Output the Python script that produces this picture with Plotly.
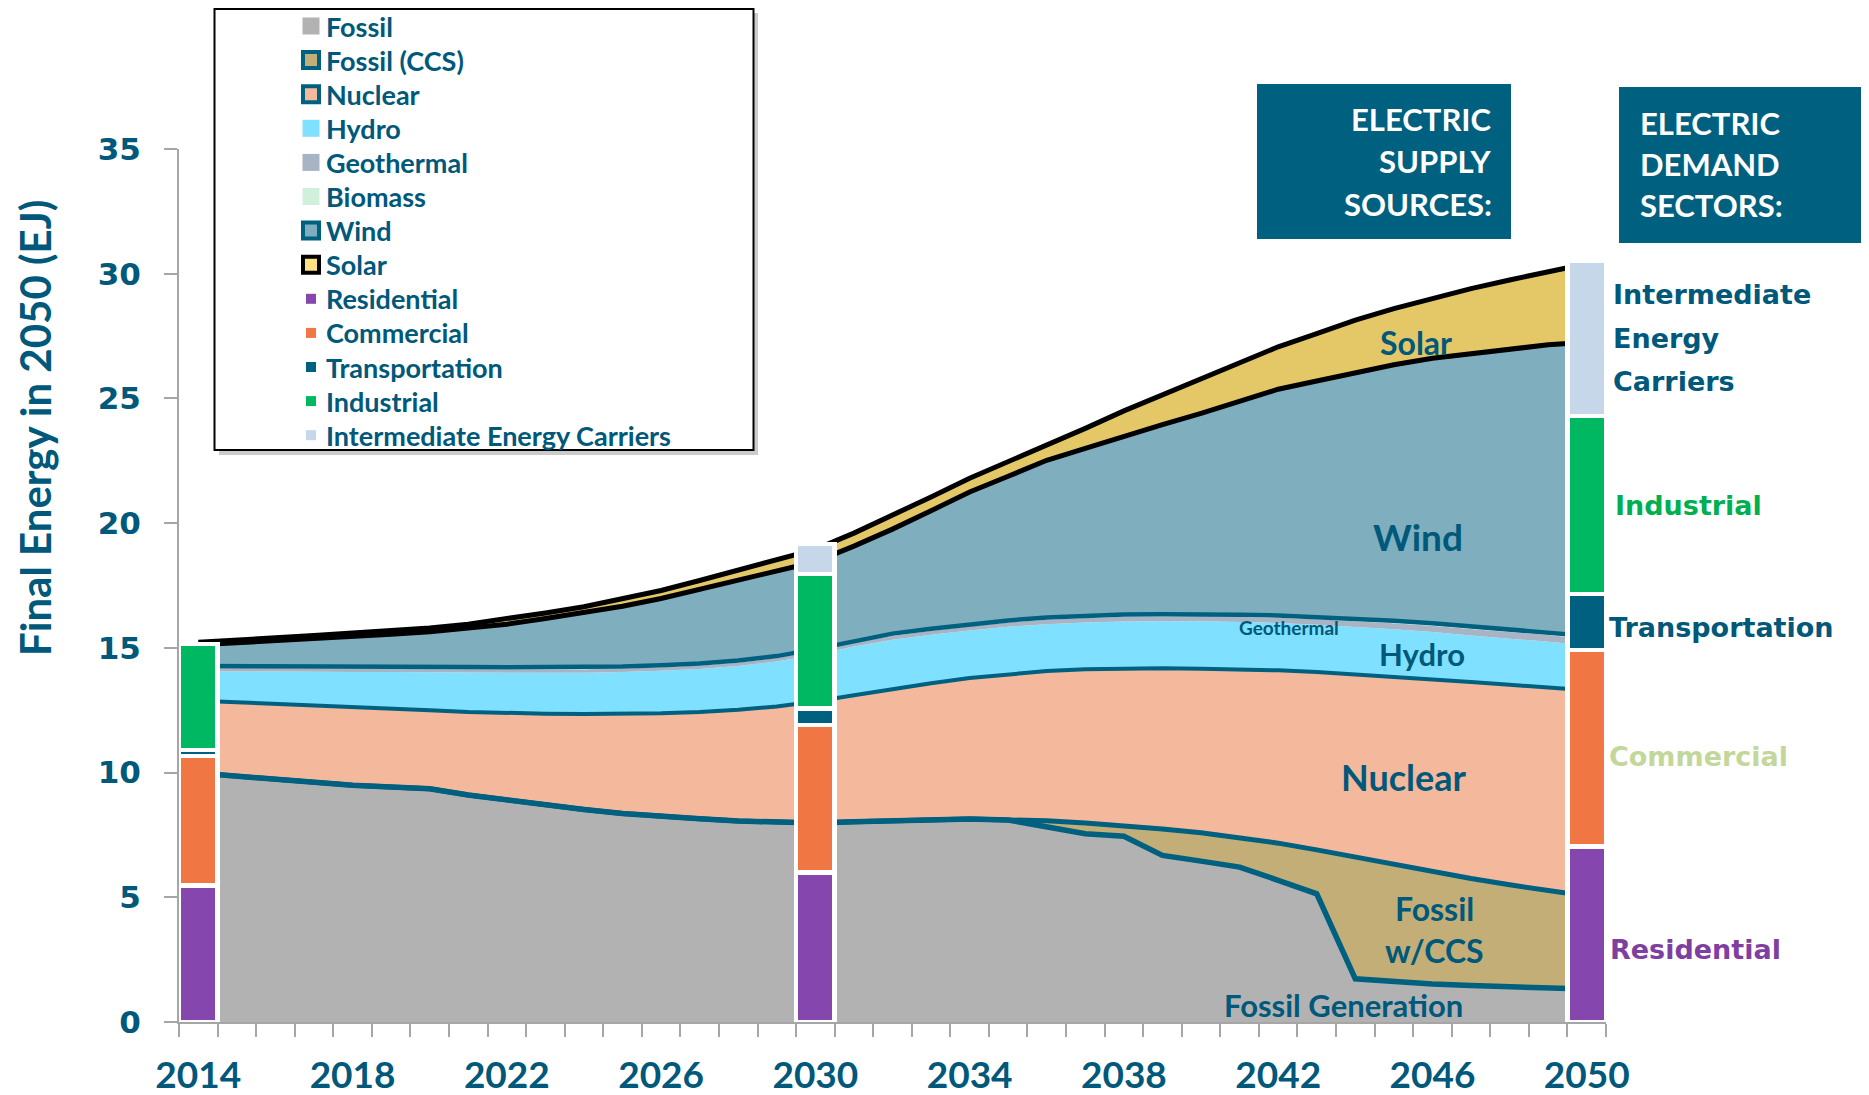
import numpy as np
import plotly.graph_objects as go

# ---- supply side (EJ per year, stacked) ----
years = list(range(2014, 2051))

fossil = [9.98, 9.85, 9.72, 9.60, 9.49, 9.42, 9.35, 9.10, 8.90, 8.72, 8.52, 8.36, 8.24,
          8.15, 8.06, 8.00, 7.98, 8.03, 8.08, 8.12, 8.14, 8.10, 7.81, 7.55, 7.45, 6.68,
          6.45, 6.21, 5.68, 5.14, 1.73, 1.60, 1.52, 1.46, 1.41, 1.36, 1.32]
fossil_ccs = [0.00, 0.00, 0.00, 0.00, 0.00, 0.00, 0.00, 0.00, 0.00, 0.00, 0.00, 0.00, 0.00,
              0.00, 0.00, 0.00, 0.00, 0.00, 0.00, 0.00, 0.00, 0.00, 0.26, 0.43, 0.43, 1.06,
              1.14, 1.19, 1.49, 1.76, 4.88, 4.70, 4.48, 4.29, 4.09, 3.92, 3.73]
nuclear = [2.90, 2.97, 3.04, 3.11, 3.16, 3.16, 3.15, 3.33, 3.48, 3.64, 3.83, 4.00, 4.14,
           4.28, 4.46, 4.65, 4.87, 5.07, 5.28, 5.46, 5.65, 5.85, 6.00, 6.16, 6.30, 6.44,
           6.57, 6.74, 6.93, 7.13, 7.33, 7.55, 7.74, 7.88, 8.02, 8.12, 8.25]
hydro = [1.17, 1.23, 1.29, 1.33, 1.38, 1.45, 1.52, 1.58, 1.62, 1.64, 1.65, 1.67, 1.70,
         1.72, 1.75, 1.80, 1.87, 1.95, 1.97, 1.95, 1.91, 1.90, 1.88, 1.88, 1.88, 1.89,
         1.91, 1.90, 1.90, 1.90, 1.90, 1.90, 1.90, 1.87, 1.85, 1.84, 1.80]
geothermal = [0.14, 0.14, 0.14, 0.14, 0.14, 0.14, 0.14, 0.14, 0.14, 0.14, 0.14, 0.14, 0.14,
              0.14, 0.14, 0.14, 0.15, 0.15, 0.16, 0.16, 0.17, 0.17, 0.18, 0.18, 0.19, 0.19,
              0.20, 0.20, 0.21, 0.22, 0.23, 0.24, 0.25, 0.26, 0.27, 0.28, 0.28]
biomass = [0.08, 0.08, 0.08, 0.08, 0.08, 0.08, 0.08, 0.08, 0.08, 0.08, 0.08, 0.08, 0.08,
           0.08, 0.08, 0.08, 0.08, 0.08, 0.08, 0.08, 0.08, 0.08, 0.09, 0.09, 0.09, 0.09,
           0.09, 0.09, 0.09, 0.09, 0.10, 0.10, 0.10, 0.10, 0.10, 0.10, 0.10]
wind = [0.85, 0.93, 1.03, 1.13, 1.23, 1.30, 1.41, 1.55, 1.73, 1.96, 2.18, 2.42, 2.68,
        2.97, 3.21, 3.38, 3.50, 3.80, 4.19, 4.73, 5.30, 5.78, 6.30, 6.71, 7.16, 7.60,
        8.04, 8.57, 9.07, 9.46, 9.87, 10.26, 10.62, 10.94, 11.26, 11.53, 11.77]
solar = [0.10, 0.10, 0.10, 0.11, 0.12, 0.13, 0.15, 0.17, 0.20, 0.22, 0.25, 0.28, 0.32,
         0.36, 0.40, 0.45, 0.50, 0.52, 0.54, 0.55, 0.55, 0.57, 0.60, 0.80, 1.00, 1.20,
         1.40, 1.55, 1.70, 1.90, 2.10, 2.25, 2.40, 2.60, 2.75, 2.95, 3.15]

supply_names = ["Fossil", "Fossil (CCS)", "Nuclear", "Hydro", "Geothermal", "Biomass", "Wind", "Solar"]
supply_colors = ["#B2B2B2", "#C4AE77", "#F4B89C", "#80E0FF", "#A8B4C4", "#D0F0DC", "#7FAFBF", "#E4C868"]

# ---- demand side (stacked bars) ----
demand_years = [2014, 2030, 2050]
residential = [5.48, 6.00, 7.03]
commercial = [5.18, 5.90, 7.88]
transportation = [0.24, 0.66, 2.25]
industrial = [4.25, 5.40, 7.14]
intermediate = [0.00, 1.20, 6.20]

demand_names = ["Residential", "Commercial", "Transportation", "Industrial", "Intermediate Energy Carriers"]
demand_colors = ["#8547AD", "#F07743", "#006080", "#00B862", "#C5D7E8"]

x_ticks = [2014, 2018, 2022, 2026, 2030, 2034, 2038, 2042, 2046, 2050]

TEXT = "#00587A"
TEAL = "#006080"
GRID = "#A6A6A6"

# the page puts the figure 8px in from the window corner
OFF = 8
W, H = 1861, 1087
ML, MR, MT, MB = 171, 263, 141, 73
PW, PH = W - ML - MR, H - MT - MB


def px(x):
    return (x - OFF - ML) / PW


def py(y):
    return (H - MB - (y - OFF)) / PH


fig = go.Figure()

# stacked supply areas
supply = [fossil, fossil_ccs, nuclear, hydro, geothermal, biomass, wind, solar]
for name, vals, col in zip(supply_names, supply, supply_colors):
    fig.add_trace(go.Scatter(x=years, y=vals, name=name, stackgroup="supply", mode="none",
                             fillcolor=col, hoverinfo="skip"))

# outlines (CCS, nuclear, wind in teal, solar in black)
tops = np.cumsum(np.array(supply), axis=0)
edges = [(0, TEAL, 5.5), (1, TEAL, 5), (2, TEAL, 4), (5, TEAL, 4.5), (6, "black", 5), (7, "black", 5)]
for idx, col, w in edges:
    fig.add_trace(go.Scatter(x=years, y=tops[idx], mode="lines", line=dict(color=col, width=w),
                             hoverinfo="skip"))

# demand bars on an overlaid axis so they sit above the areas
demand = [residential, commercial, transportation, industrial, intermediate]
for name, vals, col in zip(demand_names, demand, demand_colors):
    fig.add_trace(go.Bar(x=demand_years, y=vals, name=name, width=1,
                         marker=dict(color=col, line=dict(color="white", width=4.5)),
                         xaxis="x2", yaxis="y2"))

fig.update_layout(
    width=W, height=H,
    margin=dict(l=ML, r=MR, t=MT, b=MB),
    plot_bgcolor="white", paper_bgcolor="white",
    barmode="stack", showlegend=False,
    xaxis=dict(range=[2013.5, 2050.5], tickmode="array", tickvals=x_ticks, automargin=False,
               ticktext=[str(v) for v in x_ticks], ticks="", showgrid=False, zeroline=False,
               showline=True, linecolor=GRID, linewidth=2, ticklabelstandoff=20,
               tickfont=dict(family="Lato", size=37, color=TEXT, weight="bold"),
               minor=dict(tickmode="linear", tick0=2013.5, dtick=1, ticks="outside",
                          ticklen=13, tickwidth=2, tickcolor=GRID, showgrid=False)),
    yaxis=dict(range=[0, 35], tickmode="array", tickvals=list(range(0, 36, 5)), automargin=False,
               ticks="outside", ticklen=13, tickwidth=2, tickcolor=GRID,
               showline=True, linecolor=GRID, linewidth=2, showgrid=False, zeroline=False,
               ticklabelstandoff=17,
               tickfont=dict(family="DejaVu Sans", size=31, color=TEXT, weight="bold")),
    xaxis2=dict(overlaying="x", range=[2013.5, 2050.5], visible=False),
    yaxis2=dict(overlaying="y", range=[0, 35], visible=False),
)

shapes = []
annotations = []


def label(text, x, y, size, color=TEXT, family="Lato", anchor="center", angle=0):
    annotations.append(dict(text=text, x=px(x), y=py(y), xref="paper", yref="paper",
                            xanchor=anchor, yanchor="middle", showarrow=False, textangle=angle,
                            borderpad=0,
                            font=dict(family=family, size=size, color=color, weight="bold")))


def rect(x0, y0, x1, y1, fill, line_color=None, line_width=0, opacity=1):
    shapes.append(dict(type="rect", xref="paper", yref="paper",
                       x0=px(x0), x1=px(x1), y0=py(y1), y1=py(y0),
                       fillcolor=fill, opacity=opacity, layer="above",
                       line=dict(color=line_color or fill, width=line_width)))


# y-axis title
label("Final Energy in 2050 (EJ)", 35, 428, 42, angle=-90)

# in-chart labels
label("Solar", 1416, 342, 32)
label("Wind", 1418, 536, 37)
label("Geothermal", 1289, 627, 19)
label("Hydro", 1422, 654, 31)
label("Nuclear", 1403, 777, 36)
label("Fossil", 1434, 908, 32)
label("w/CCS", 1434, 950, 32)
label("Fossil Generation", 1343, 1005, 31)

# header boxes
rect(1257, 84, 1511, 239, TEAL)
rect(1619, 87, 1869, 243, TEAL)
for txt, yy in [("ELECTRIC", 119), ("SUPPLY", 161), ("SOURCES:", 204)]:
    label(txt, 1493, yy, 31, color="white", anchor="right")
for txt, yy in [("ELECTRIC", 123), ("DEMAND", 164), ("SECTORS:", 205)]:
    label(txt, 1639, yy, 31, color="white", anchor="left")

# demand sector labels on the right
for txt, xx, yy, col in [("Intermediate", 1612, 294, TEXT), ("Energy", 1612, 338, TEXT),
                         ("Carriers", 1612, 381, TEXT), ("Industrial", 1614, 505, "#00B050"),
                         ("Transportation", 1608, 627, TEXT), ("Commercial", 1608, 756, "#C4D79B"),
                         ("Residential", 1609, 949, "#7F3FA0")]:
    label(txt, xx, yy, 27, color=col, family="DejaVu Sans", anchor="left")

# legend box
rect(219, 13, 758, 455, "#8C8C8C", opacity=0.45)
rect(214.5, 9, 753.5, 450, "white", "black", 2)
legend_rows = [
    (supply_names[0], supply_colors[0], None, 17),
    (supply_names[1], supply_colors[1], TEAL, 16),
    (supply_names[2], supply_colors[2], TEAL, 16),
    (supply_names[3], supply_colors[3], None, 17),
    (supply_names[4], supply_colors[4], None, 17),
    (supply_names[5], supply_colors[5], None, 17),
    (supply_names[6], supply_colors[6], TEAL, 16),
    (supply_names[7], "#FFE083", "black", 16),
] + [(n, c, None, 10) for n, c in zip(demand_names, demand_colors)]
for i, (name, fill, border, size) in enumerate(legend_rows):
    cy = 26 + i * 34.1
    cx = 311
    h = size / 2
    if border:
        rect(cx - h, cy - h, cx + h, cy + h, fill, border, 4)
    else:
        rect(cx - h, cy - h, cx + h, cy + h, fill)
    label(name, 325, cy, 27, anchor="left")

fig.update_layout(shapes=shapes, annotations=annotations)

fig.write_html("out.html")
